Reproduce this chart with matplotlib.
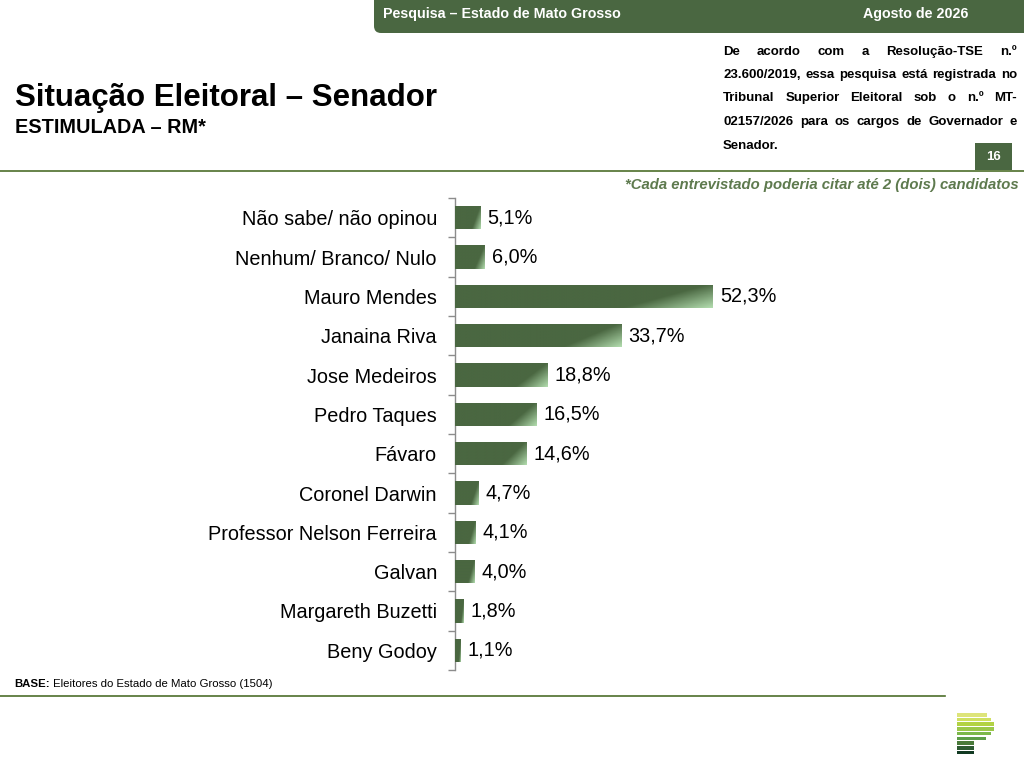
import matplotlib
matplotlib.use("Agg")
import matplotlib.pyplot as plt
import numpy as np
from matplotlib.patches import FancyBboxPatch, Rectangle
from matplotlib.colors import LinearSegmentedColormap
import matplotlib.transforms as mtransforms

plt.rcParams['font.family'] = ['Liberation Sans', 'DejaVu Sans']

# ---------------- data ----------------
categories = ["Não sabe/ não opinou", "Nenhum/ Branco/ Nulo", "Mauro Mendes",
              "Janaina Riva", "Jose Medeiros", "Pedro Taques", "Fávaro",
              "Coronel Darwin", "Professor Nelson Ferreira", "Galvan",
              "Margareth Buzetti", "Beny Godoy"]
values = [5.1, 6.0, 52.3, 33.7, 18.8, 16.5, 14.6, 4.7, 4.1, 4.0, 1.8, 1.1]
value_labels = ["5,1%", "6,0%", "52,3%", "33,7%", "18,8%", "16,5%", "14,6%",
                "4,7%", "4,1%", "4,0%", "1,8%", "1,1%"]

title = "Situação Eleitoral – Senador"
subtitle = "ESTIMULADA – RM*"
header_left = "Pesquisa – Estado de Mato Grosso"
header_right = "Agosto de 2026"
page_number = "16"
footnote = "*Cada entrevistado poderia citar até 2 (dois) candidatos"
base_bold = "BASE:"
base_text = " Eleitores do Estado de Mato Grosso (1504)"
legal_lines = ["De acordo com a Resolução-TSE n.º",
               "23.600/2019, essa pesquisa está registrada no",
               "Tribunal Superior Eleitoral sob o n.º MT-",
               "02157/2026 para os cargos de Governador e",
               "Senador."]

logo_colors = ["#dde47a", "#cfe060", "#b2d244", "#9bc84a", "#7cb84a",
               "#5c9e48", "#4a7a3a", "#2e5a32", "#123a22"]
logo_ends = [987, 991, 994, 994, 991, 986, 974, 974, 974]

DARK = "#4a6741"
LIGHT = "#b2dcae"
LINE_GREEN = "#4d6e2a"

W, H = 1024, 767
fig = plt.figure(figsize=(W / 100, H / 100), dpi=100)
fig.patch.set_facecolor("white")

# ---------------- chart axes ----------------
ax_left, ax_right = 455, 455 + 493
ax_top, ax_bot = 198, 670
ax = fig.add_axes([ax_left / W, (H - ax_bot) / H, (ax_right - ax_left) / W,
                   (ax_bot - ax_top) / H])
n = len(categories)
ypos = np.arange(n)
bar_h = 0.6
bars = ax.barh(ypos, values, height=bar_h, color=DARK, edgecolor="none", zorder=2)

cmap = LinearSegmentedColormap.from_list(
    "g", [(0, DARK), (0.74, DARK), (1.0, LIGHT)])
gx, gy = np.meshgrid(np.linspace(0, 1, 200), np.linspace(0, 1, 40))
grad = 0.75 * gx + 0.25 * gy
for b, v, y in zip(bars, values, ypos):
    im = ax.imshow(grad, cmap=cmap, vmin=0, vmax=1, aspect="auto",
                   extent=[0, v, y + bar_h / 2, y - bar_h / 2],
                   origin="upper", interpolation="bilinear", zorder=3)
    im.set_clip_path(b)

ax.set_xlim(0, 100)
ax.set_ylim(n - 0.5, -0.5)
ax.set_yticks(ypos)
ax.set_yticklabels(categories, fontsize=14.3)
ax.set_yticks(np.arange(n + 1) - 0.5, minor=True)
ax.tick_params(axis="y", which="major", length=0, pad=13)
ax.tick_params(axis="y", which="minor", length=5, color="#8c8c8c", width=1)
ax.set_xticks([])
for s in ["top", "right", "bottom"]:
    ax.spines[s].set_visible(False)
ax.spines["left"].set_color("#8c8c8c")
ax.spines["left"].set_linewidth(1)
ax.patch.set_alpha(0)

off = mtransforms.offset_copy(ax.transData, fig=fig, x=7, y=0, units="dots")
for v, y, lab in zip(values, ypos, value_labels):
    ax.text(v, y, lab, transform=off, ha="left", va="center", fontsize=14.3,
            color="black")

# ---------------- decoration overlay (pixel coordinates) ----------------
ov2 = fig.add_axes([0, 0, 1, 1], zorder=5)
ov2.set_xlim(0, W)
ov2.set_ylim(H, 0)
ov2.axis("off")
ov2.patch.set_alpha(0)

# header band
ov2.add_patch(FancyBboxPatch((374, -20), 700, 53,
                             boxstyle="round,pad=0,rounding_size=7",
                             facecolor=DARK, edgecolor="none"))
ov2.text(383, 14, header_left, color="white", fontsize=10.3, fontweight="bold",
         ha="left", va="center")
ov2.text(968, 14, header_right, color="white", fontsize=10.3, fontweight="bold",
         ha="right", va="center")

# title
ov2.text(15, 106, title, fontsize=22.5, fontweight="bold", ha="left",
         va="baseline", color="black")
ov2.text(15, 133, subtitle, fontsize=14.3, fontweight="bold", ha="left",
         va="baseline", color="black")

# separator lines
ov2.plot([0, W], [170.5, 170.5], color=LINE_GREEN, lw=1.2)
ov2.plot([0, 945], [695.5, 695.5], color=LINE_GREEN, lw=1.2)

# page number box
ov2.add_patch(Rectangle((975, 143), 37, 27, facecolor=DARK, edgecolor="none"))
ov2.text(993.5, 157, page_number, color="white", fontsize=9.5, fontweight="bold",
         ha="center", va="center")

# footnote
ov2.text(1019, 185, footnote, color="#5e7a4e", fontsize=10.7, fontweight="bold",
         style="italic", ha="right", va="center")

# base
t1 = ov2.text(14, 684, base_bold, fontsize=8.2, fontweight="bold", ha="left",
              va="center", color="black")
fig.canvas.draw()
r = fig.canvas.get_renderer()
wb = t1.get_window_extent(r).width
ov2.text(14 + wb, 684, base_text, fontsize=8.2, ha="left", va="center",
         color="black")

# justified legal paragraph
px_left, px_right = 723, 1017
line_y = [52, 75, 98, 122, 146]
for k, (line, yy) in enumerate(zip(legal_lines, line_y)):
    words = line.split(" ")
    if k == len(legal_lines) - 1 or len(words) == 1:
        ov2.text(px_left, yy, line, fontsize=9.5, fontweight="bold",
                 ha="left", va="center", color="black")
        continue
    txts = [ov2.text(0, yy, w, fontsize=9.5, fontweight="bold", ha="left",
                     va="center", color="black") for w in words]
    widths = [t.get_window_extent(r).width for t in txts]
    gap = (px_right - px_left - sum(widths)) / (len(words) - 1)
    x = px_left
    for t, wdt in zip(txts, widths):
        t.set_x(x)
        x += wdt + gap

# logo
for i, (c, xe) in enumerate(zip(logo_colors, logo_ends)):
    ov2.add_patch(Rectangle((957, 713 + i * 4.7), xe - 957, 3.6,
                            facecolor=c, edgecolor="none"))

fig.savefig("out.png", dpi=100)
